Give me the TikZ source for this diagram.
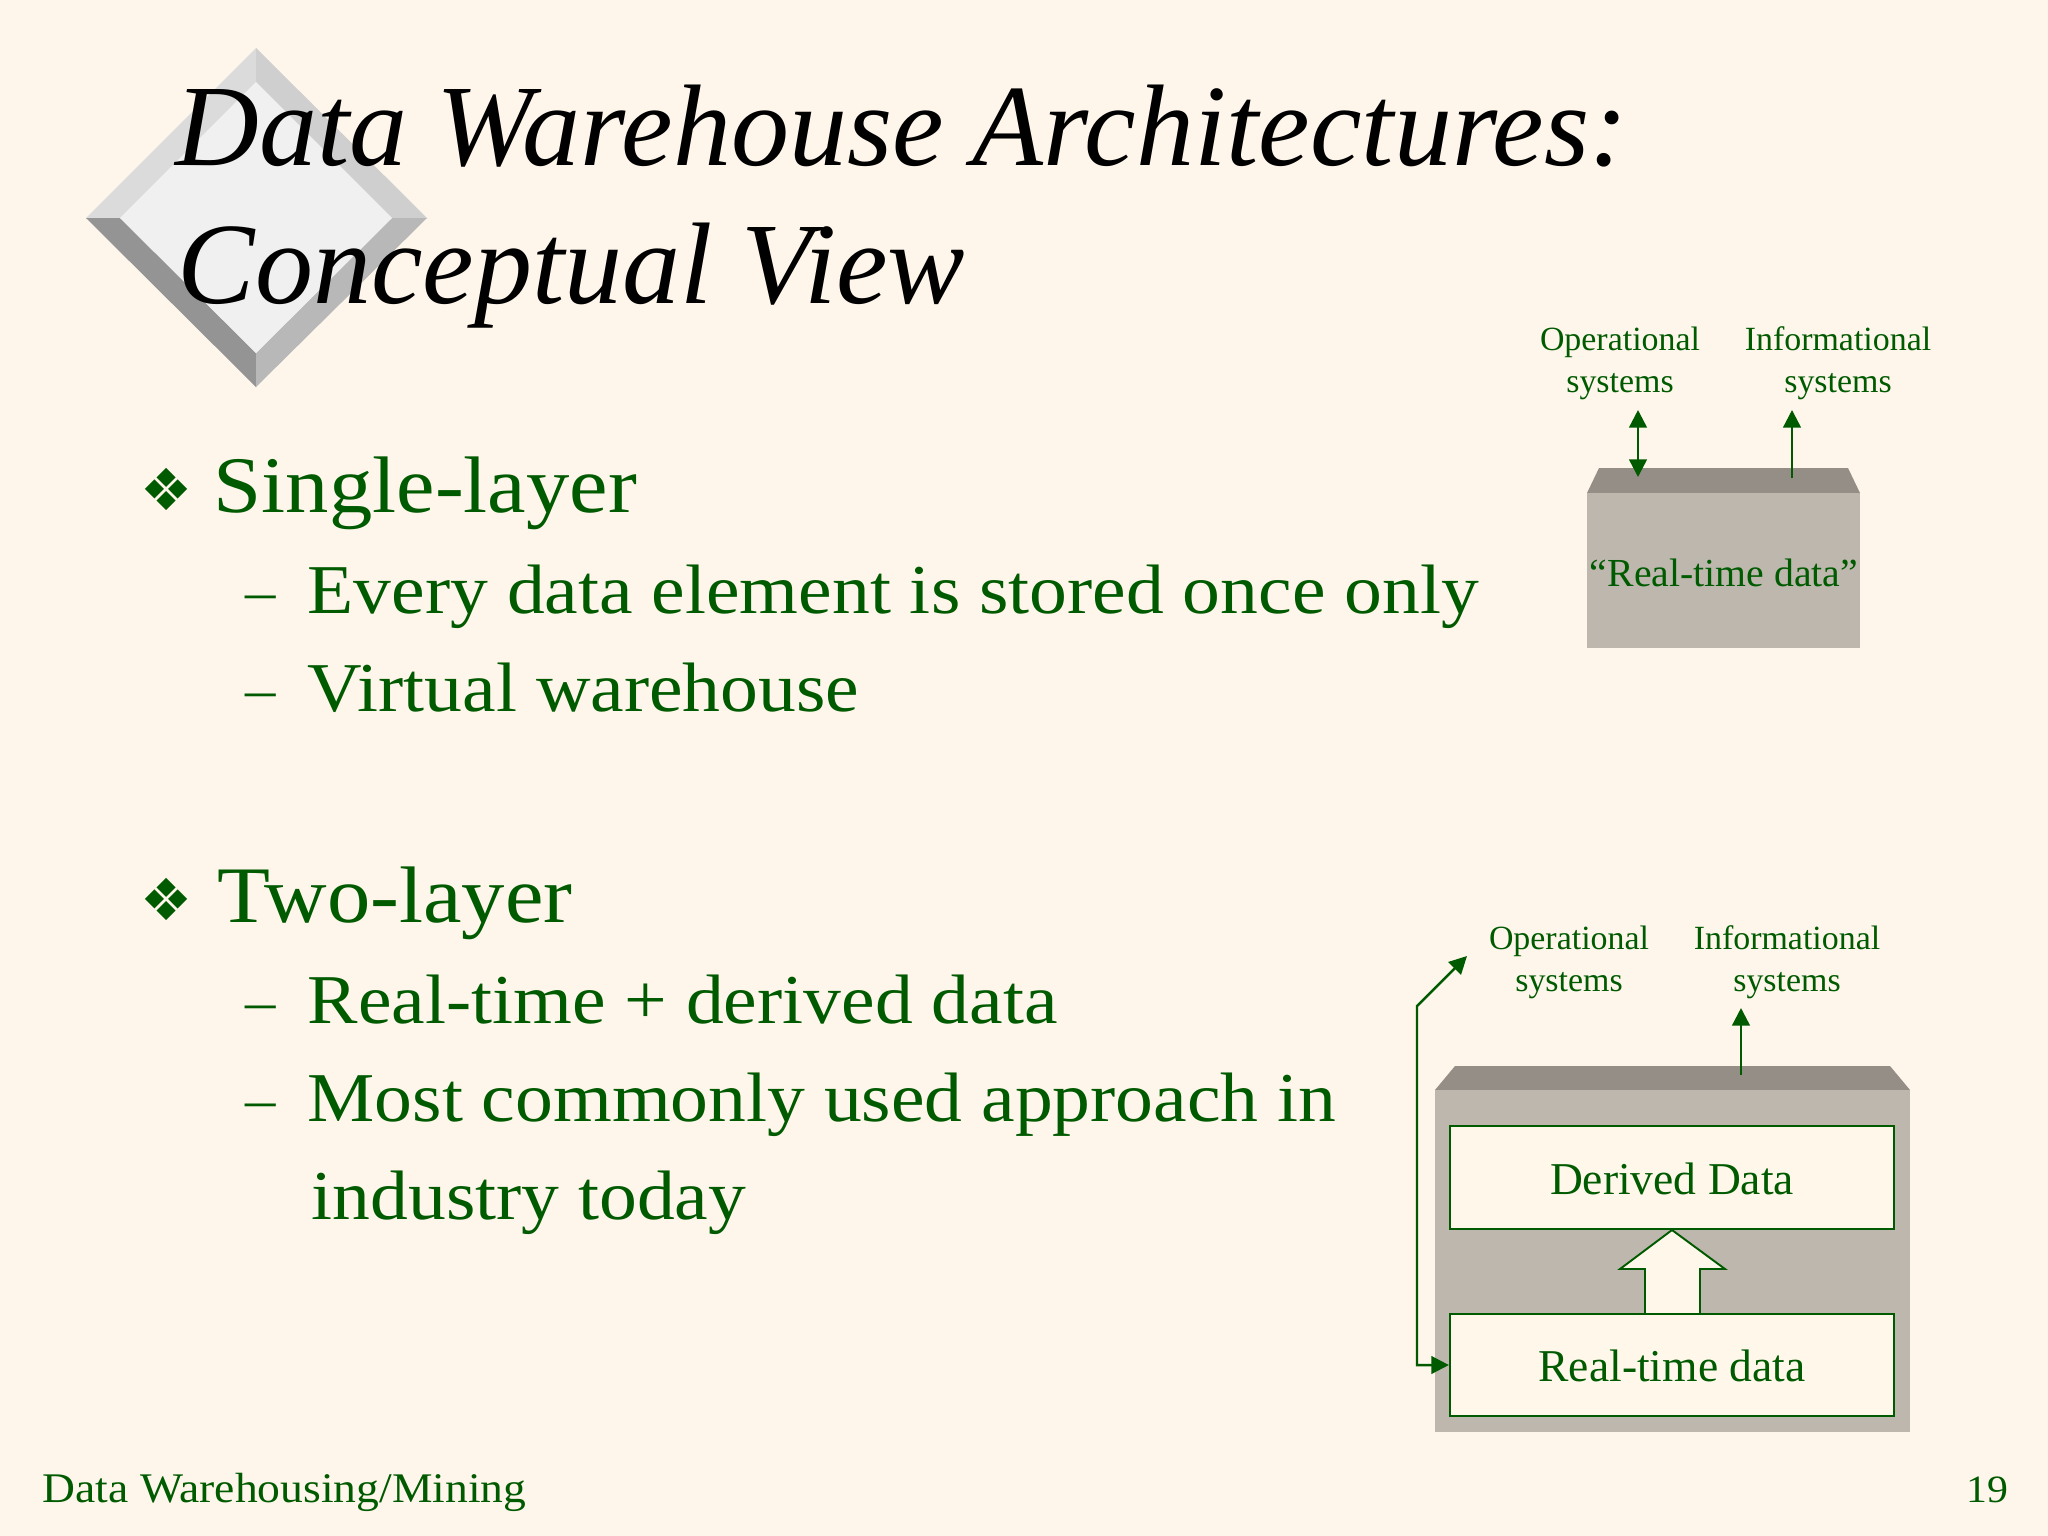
\documentclass[tikz,border=0pt]{standalone}
\usepackage{fontspec}
\setmainfont{Liberation Serif}
\newfontfamily\slidefont[FakeStretch=1.08]{Liberation Serif}
\newfontfamily\bulletfont{DejaVu Sans}
\usepackage{xcolor}
\usetikzlibrary{positioning,arrows.meta}

\definecolor{slidebg}{HTML}{FEF5EB}
\definecolor{slidegreen}{HTML}{005A00}
\definecolor{boxfront}{HTML}{BDB7AE}
\definecolor{boxtop}{HTML}{958E86}
\definecolor{boxcream}{HTML}{FEF7EA}

\tikzset{
    titletext/.style={anchor=base west, inner sep=0pt, text=black, font=\itshape\fontsize{33}{33}\selectfont},
    headtext/.style={anchor=base west, inner sep=0pt, text=slidegreen, font=\slidefont\fontsize{22.8}{24}\selectfont},
    subtext/.style={anchor=base west, inner sep=0pt, text=slidegreen, font=\slidefont\fontsize{19.9}{22}\selectfont},
    dashtext/.style={anchor=base west, inner sep=0pt, text=slidegreen, font=\slidefont\fontsize{16}{22}\selectfont},
    bulletmark/.style={inner sep=0pt, text=slidegreen, font=\bulletfont\fontsize{16.5}{17}\selectfont},
    smalltext/.style={anchor=base, inner sep=0pt, text=slidegreen, font=\fontsize{9.64}{11.7}\selectfont, align=center},
    boxtext/.style={draw=slidegreen, line width=0.55pt, fill=boxcream, text=slidegreen, font=\fontsize{12.95}{14}\selectfont, inner sep=0pt, text height=9.4pt, text depth=0pt},
    footertext/.style={anchor=base west, inner sep=0pt, text=slidegreen, font=\slidefont\fontsize{12}{12}\selectfont},
    flow/.style={draw=slidegreen, line width=0.7pt, -{Triangle[length=5pt,width=5pt]}},
    flowboth/.style={flow, {Triangle[length=5pt,width=5pt]}-{Triangle[length=5pt,width=5pt]}},
}

\begin{document}
\begin{tikzpicture}[x=0.01cm,y=-0.01cm]
    % Background
    \fill[slidebg] (0,0) rectangle (2048,1536);
    \useasboundingbox (0,0) rectangle (2048,1536);

    % Diamond
    \fill[black!14] (256,48) -- (86,218) -- (120,218) -- (256,82) -- cycle;
    \fill[black!19] (256,48) -- (427,218) -- (392,218) -- (256,82) -- cycle;
    \fill[black!42] (86,218) -- (256,387) -- (256,353) -- (120,218) -- cycle;
    \fill[black!28] (427,218) -- (256,387) -- (256,353) -- (392,218) -- cycle;
    \fill[black!6] (256,82) -- (392,218) -- (256,353) -- (120,218) -- cycle;

    % Title
    \node[titletext] (titleone) at (175,165) {Data Warehouse Architectures:};
    \node[titletext] (titletwo) at (177,303) {Conceptual View};

    % Single layer text
    \node[bulletmark] (bulletone) at (167,489) {❖};
    \node[headtext] (singlehead) at (213,512) {Single-layer};
    \node[dashtext] (dashone) at (245,610) {–};
    \node[subtext] (singleone) at (307,613) {Every data element is stored once only};
    \node[dashtext] (dashtwo) at (245,708) {–};
    \node[subtext] (singletwo) at (307,711) {Virtual warehouse};

    % Two layer text
    \node[bulletmark] (bullettwo) at (167,899) {❖};
    \node[headtext] (twohead) at (217,922) {Two-layer};
    \node[dashtext] (dashthree) at (245,1020) {–};
    \node[subtext] (twoone) at (307,1023) {Real-time + derived data};
    \node[dashtext] (dashfour) at (245,1118) {–};
    \node[subtext] (twotwo) at (307,1121) {Most commonly used approach in};
    \node[subtext] (twothree) at (311,1219) {industry today};

    % Small box
    \fill[boxtop] (1587,493) -- (1599,468) -- (1848,468) -- (1860,493) -- cycle;
    \fill[boxfront] (1587,493) rectangle (1860,648);
    \node[anchor=base, inner sep=0pt, text=slidegreen, font=\fontsize{11.3}{13}\selectfont] (smalldata) at (1724,586) {“Real-time data”};
    \node[smalltext] (smallop) at (1620,392) {Operational\\systems};
    \node[smalltext] (smallinfo) at (1838,392) {Informational\\systems};
    \coordinate (smallopup) at (1638,410);
    \coordinate (smallopdown) at (1638,477);
    \coordinate (smallinfoup) at (1792,410);
    \coordinate (smallinfofoot) at (1792,478);
    \draw[flowboth] (smallopup) -- (smallopdown);
    \draw[flow] (smallinfofoot) -- (smallinfoup);

    % Large box
    \fill[boxtop] (1435,1090) -- (1455,1066) -- (1890,1066) -- (1910,1090) -- cycle;
    \fill[boxfront] (1435,1090) rectangle (1910,1432);
    \node[boxtext, minimum width=4.44cm, minimum height=1.03cm] (derived) at (1672,1177.5) {Derived Data};
    \node[boxtext, minimum width=4.44cm, minimum height=1.02cm] (realtime) at (1672,1365) {Real-time data};
    \draw[draw=slidegreen, line width=0.55pt, fill=boxcream] (derived.south) -- (1725,1269) -- (1700,1269) -- (1700,1314) -- (1645,1314) -- (1645,1269) -- (1620,1269) -- cycle;
    \node[smalltext] (largeop) at (1569,991) {Operational\\systems};
    \node[smalltext] (largeinfo) at (1787,991) {Informational\\systems};
    \coordinate (largeopend) at (1467,956);
    \coordinate (largebendtop) at (1417,1006);
    \coordinate (largebendfoot) at (1417,1365);
    \coordinate (largeinfoup) at (1741,1008);
    \coordinate (largeinfofoot) at (1741,1075);
    \draw[flowboth] (realtime.west) -- (largebendfoot) -- (largebendtop) -- (largeopend);
    \draw[flow] (largeinfofoot) -- (largeinfoup);

    % Footer
    \node[footertext] (footer) at (42,1502) {Data Warehousing/Mining};
    \node[footertext, anchor=base east, font=\slidefont\fontsize{11}{11}\selectfont] (pagenum) at (2009,1502) {19};
\end{tikzpicture}
\end{document}
